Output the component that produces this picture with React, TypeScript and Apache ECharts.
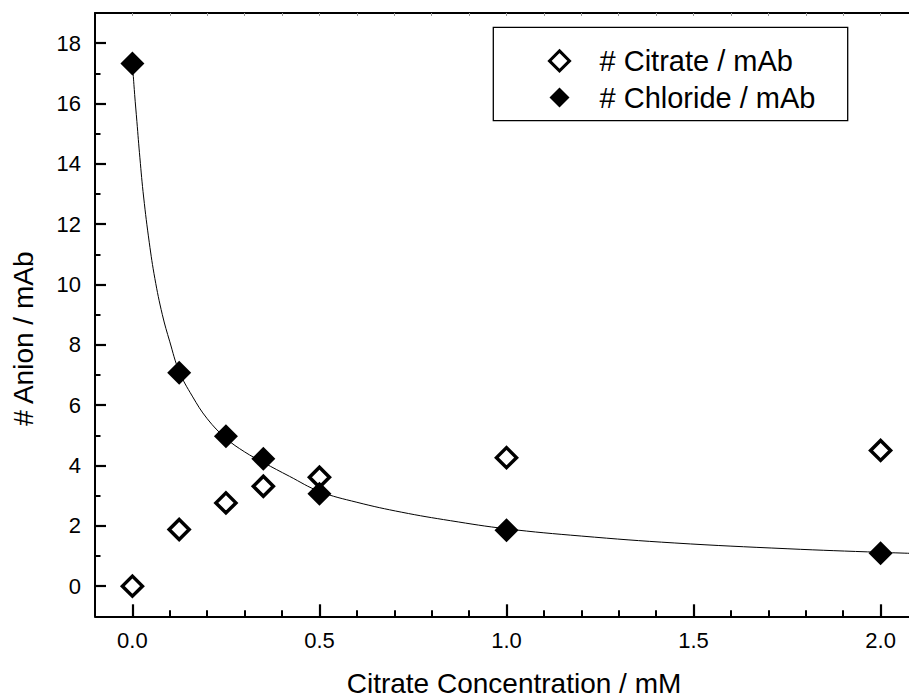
import { useEffect, useRef } from "react";
import * as echarts from "echarts";

const concentrations = [0, 0.125, 0.25, 0.35, 0.5, 1.0, 2.0];
const citratePerMab = [0, 1.88, 2.76, 3.31, 3.61, 4.26, 4.5];
const chloridePerMab = [17.33, 7.07, 4.97, 4.22, 3.06, 1.85, 1.09];

const fitX = [0, 0.006, 0.012, 0.02, 0.03, 0.045, 0.06, 0.08, 0.1, 0.125, 0.16, 0.2, 0.25, 0.3, 0.35, 0.42, 0.5, 0.6, 0.72, 0.85, 1.0, 1.2, 1.45, 1.75, 2.0, 2.1];
const fitY = [17.33, 16.3, 15.4, 14.2, 12.9, 11.4, 10.2, 9.0, 8.1, 7.12, 6.3, 5.55, 4.9, 4.45, 4.1, 3.64, 3.14, 2.78, 2.45, 2.17, 1.9, 1.66, 1.43, 1.24, 1.12, 1.08];

const xMajorTicks = [0, 0.5, 1.0, 1.5, 2.0];
const xMinorTicks = [0.1, 0.2, 0.3, 0.4, 0.6, 0.7, 0.8, 0.9, 1.1, 1.2, 1.3, 1.4, 1.6, 1.7, 1.8, 1.9];
const xTopTicks = [0, 0.1, 0.2, 0.3, 0.4, 0.5, 0.6, 0.7, 0.8, 0.9, 1.0, 1.1, 1.2, 1.3, 1.4, 1.5, 1.6, 1.7, 1.8, 1.9, 2.0];
const yMajorTicks = [0, 2, 4, 6, 8, 10, 12, 14, 16, 18];
const yMinorTicks = [1, 3, 5, 7, 9, 11, 13, 15, 17];

const seriesNames = ["# Citrate / mAb", "# Chloride / mAb"];
const xTitle = "Citrate Concentration / mM";
const yTitle = "# Anion / mAb";

const FONT = "'Liberation Sans', Arial, Helvetica, sans-serif";

export default function App() {
  const ref = useRef<HTMLDivElement>(null);
  useEffect(() => {
    if (!ref.current) return;
    const chart = echarts.init(ref.current, undefined, { renderer: "svg" });
    const xBase = { type: "value", min: -0.1, max: 2.1, splitLine: { show: false } };
    const yBase = { type: "value", min: -1, max: 19, splitLine: { show: false } };
    chart.setOption({
      animation: false,
      backgroundColor: "#ffffff",
      textStyle: { fontFamily: FONT, color: "#000" },
      grid: { left: 95, right: 0, top: 13, bottom: 81.7, containLabel: false },
      xAxis: [
        {
          ...xBase,
          position: "bottom",
          axisLine: { show: true, onZero: false, lineStyle: { color: "#000", width: 2 } },
          axisTick: { show: true, inside: true, length: 12, customValues: xMajorTicks, lineStyle: { color: "#000", width: 2.2 } },
          axisLabel: {
            show: true,
            customValues: xMajorTicks,
            margin: 13,
            fontSize: 22,
            color: "#000",
            fontFamily: FONT,
            formatter: (v: number) => v.toFixed(1),
          },
        },
        {
          ...xBase,
          position: "bottom",
          axisLine: { show: false, onZero: false },
          axisTick: { show: true, inside: true, length: 6, customValues: xMinorTicks, lineStyle: { color: "#000", width: 2 } },
          axisLabel: { show: false },
        },
        {
          ...xBase,
          position: "top",
          axisLine: { show: true, onZero: false, lineStyle: { color: "#000", width: 2 } },
          axisTick: { show: true, inside: true, length: 3, customValues: xTopTicks, lineStyle: { color: "#999", width: 1 } },
          axisLabel: { show: false },
        },
      ],
      yAxis: [
        {
          ...yBase,
          position: "left",
          axisLine: { show: true, onZero: false, lineStyle: { color: "#000", width: 2 } },
          axisTick: { show: true, inside: true, length: 11, customValues: yMajorTicks, lineStyle: { color: "#000", width: 2.2 } },
          axisLabel: { show: true, customValues: yMajorTicks, margin: 14, fontSize: 22, color: "#000", fontFamily: FONT },
        },
        {
          ...yBase,
          position: "left",
          axisLine: { show: false, onZero: false },
          axisTick: { show: true, inside: true, length: 5.5, customValues: yMinorTicks, lineStyle: { color: "#000", width: 2 } },
          axisLabel: { show: false },
        },
      ],
      legend: {
        show: true,
        orient: "vertical",
        left: 548,
        top: 46.4,
        padding: 0,
        itemWidth: 20,
        itemHeight: 20,
        itemGap: 7.6,
        selectedMode: false,
        textStyle: { fontSize: 29, lineHeight: 20, color: "#000", fontFamily: FONT, padding: [0, 0, 0, 25] },
        data: [
          { name: seriesNames[0], icon: "diamond", itemStyle: { color: "#fff", borderColor: "#000", borderWidth: 3, opacity: 1 } },
          { name: seriesNames[1], icon: "diamond", itemStyle: { color: "#000", borderWidth: 0, opacity: 1 } },
        ],
      },
      graphic: [
        {
          type: "rect",
          shape: { x: 493.3, y: 27.3, width: 354.4, height: 93.4 },
          style: { fill: "none", stroke: "#000", lineWidth: 1.3 },
          z: 10,
        },
        {
          type: "text",
          x: 514,
          y: 683,
          style: { text: xTitle, fontSize: 28, fontFamily: FONT, fill: "#000", align: "center", verticalAlign: "middle" },
        },
        {
          type: "text",
          x: 23.8,
          y: 338.7,
          rotation: Math.PI / 2,
          style: { text: yTitle, fontSize: 28, fontFamily: FONT, fill: "#000", align: "center", verticalAlign: "middle" },
        },
      ],
      series: [
        {
          name: seriesNames[0],
          type: "scatter",
          xAxisIndex: 0,
          yAxisIndex: 0,
          symbol: "diamond",
          symbolSize: 20,
          itemStyle: { color: "#fff", borderColor: "#000", borderWidth: 3.5, opacity: 1 },
          z: 2,
          data: concentrations.map((x, i) => [x, citratePerMab[i]]),
        },
        {
          name: "fit",
          type: "line",
          xAxisIndex: 0,
          yAxisIndex: 0,
          smooth: 0.4,
          showSymbol: false,
          symbol: "none",
          lineStyle: { color: "#000", width: 1 },
          z: 3,
          data: fitX.map((x, i) => [x, fitY[i]]),
        },
        {
          name: seriesNames[1],
          type: "scatter",
          xAxisIndex: 0,
          yAxisIndex: 0,
          symbol: "diamond",
          symbolSize: 24,
          itemStyle: { color: "#000", opacity: 1 },
          z: 4,
          data: concentrations.map((x, i) => [x, chloridePerMab[i]]),
        },
      ],
    });
    return () => chart.dispose();
  }, []);
  return (
    <div style={{ position: "absolute", left: 0, top: 0, width: 909, height: 698, overflow: "hidden", background: "#fff" }}>
      <div ref={ref} style={{ width: 918, height: 698 }} />
    </div>
  );
}
